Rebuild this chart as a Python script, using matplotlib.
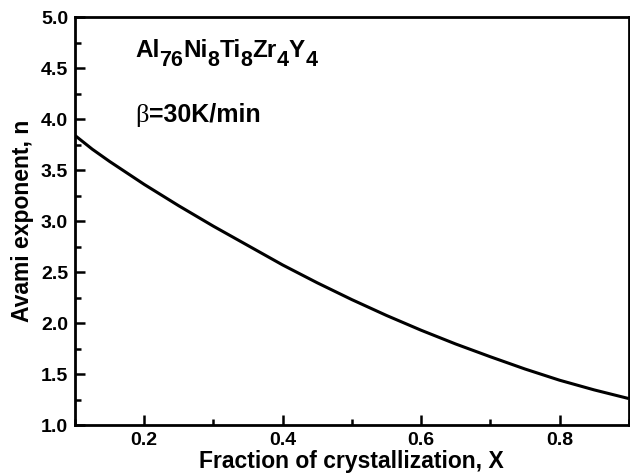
import matplotlib
matplotlib.use("Agg")
import matplotlib.pyplot as plt
from matplotlib.ticker import MultipleLocator

plt.rcParams["font.family"] = ["Liberation Sans", "DejaVu Sans"]
plt.rcParams["font.weight"] = "bold"

# Avrami exponent vs. crystallized fraction
fraction_x = [0.10, 0.125, 0.15, 0.20, 0.25, 0.30, 0.35, 0.40, 0.45, 0.50,
              0.55, 0.60, 0.65, 0.70, 0.75, 0.80, 0.85, 0.90]
avrami_n = [3.84, 3.705, 3.585, 3.36, 3.15, 2.95, 2.76, 2.57, 2.395, 2.23,
            2.075, 1.93, 1.795, 1.67, 1.55, 1.44, 1.345, 1.26]

x_ticks = [0.2, 0.4, 0.6, 0.8]
y_ticks = [1.0, 1.5, 2.0, 2.5, 3.0, 3.5, 4.0, 4.5, 5.0]

# alloy formula: (text, is_subscript)
formula_parts = [("Al", False), ("76", True), ("Ni", False), ("8", True),
                 ("Ti", False), ("8", True), ("Zr", False), ("4", True),
                 ("Y", False), ("4", True)]
heating_rate = "=30K/min"

W, H = 630, 476
fig = plt.figure(figsize=(W / 100, H / 100), dpi=100)
ax = fig.add_axes([0.119, 0.107, 0.879, 0.857])

ax.plot(fraction_x, avrami_n, color="black", lw=2.2, solid_capstyle="butt")

ax.set_xlim(0.1, 0.9)
ax.set_ylim(1.0, 5.0)
ax.set_xticks(x_ticks)
ax.set_yticks(y_ticks)
ax.set_xticklabels([f"{v:.1f}" for v in x_ticks])
ax.set_yticklabels([f"{v:.1f}" for v in y_ticks])
ax.xaxis.set_minor_locator(MultipleLocator(0.1))
ax.yaxis.set_minor_locator(MultipleLocator(0.25))

ax.tick_params(which="both", direction="in", top=False, right=False,
               labelsize=14, width=1.8)
ax.tick_params(which="major", length=7, pad=5)
ax.tick_params(which="minor", length=4)
for lbl in ax.get_xticklabels() + ax.get_yticklabels():
    lbl.set_fontweight("bold")

for s in ax.spines.values():
    s.set_linewidth(2.0)

ax.set_xlabel("Fraction of crystallization, X", fontsize=16.5,
              fontweight="bold", labelpad=1)
ax.set_ylabel("Avami exponent, n", fontsize=16.5, fontweight="bold",
              labelpad=5)

renderer = fig.canvas.get_renderer()


def put_run(x_px, base_px, txt, size, drop_px=0, family=None, weight="bold"):
    """Draw a run of text with its baseline at base_px (from the top),
    lowered by drop_px, and return the x position after it."""
    kw = {}
    if family is not None:
        kw["family"] = family
    t = fig.text(x_px / W, (H - base_px - drop_px) / H, txt, fontsize=size,
                 fontweight=weight, va="baseline", ha="left", **kw)
    return x_px + t.get_window_extent(renderer).width


# formula with full-size lowered subscripts
x_px = 135
for txt, sub in formula_parts:
    if sub:
        x_px = put_run(x_px, 57, txt, 15.5, drop_px=9)
    else:
        x_px = put_run(x_px, 57, txt, 17.5)

# heating rate
x_px = put_run(135, 122, "β", 19, family="Liberation Serif", weight="normal")
put_run(x_px, 122, heating_rate, 18)

fig.savefig("out.png", dpi=100)
